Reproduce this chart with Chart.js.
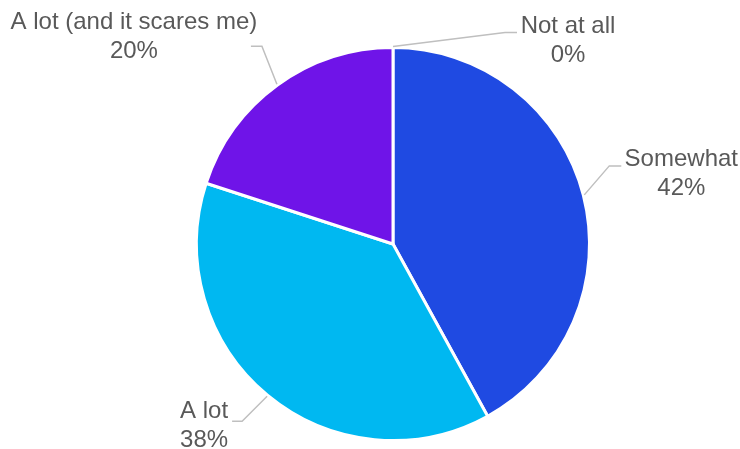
<!DOCTYPE html>
<html>
<head>
<meta charset="utf-8">
<script src="https://cdn.jsdelivr.net/npm/chart.js@4"></script>
<style>
  html, body { margin: 0; padding: 0; background: #fff; }
  #wrap { width: 740px; height: 449px; }
</style>
</head>
<body>
<div id="wrap"><canvas id="pieChart" width="740" height="449"></canvas></div>
<script>
const categories = ['Somewhat', 'A lot', 'A lot (and it scares me)', 'Not at all'];
const shares = [42, 38, 20, 0];
const sliceColors = ['#1f4ae2', '#00b8f1', '#6f14e8', '#a5a5a5'];

// leader line: elbow offset from slice edge, then horizontal run; text centre / first baseline from line end
const leaders = [
  { elbow: [25, -29], run: 12, text: [60, 0] },
  { elbow: [-25, 25], run: -10, text: [-28, -3] },
  { elbow: [-15, -38], run: -11, text: [-117, -17] },
  { elbow: [112, -14], run: 12, text: [51, 0] },
];

const pieLabels = {
  id: 'pieLabels',
  afterDraw(chart) {
    const ctx = chart.ctx;
    const arcs = chart.getDatasetMeta(0).data;
    ctx.save();
    arcs.forEach((arc, i) => {
      const { x, y, startAngle, endAngle, outerRadius } = arc.getProps(['x', 'y', 'startAngle', 'endAngle', 'outerRadius'], true);
      const mid = (startAngle + endAngle) / 2;
      const ax = x + Math.cos(mid) * (outerRadius + 1);
      const ay = y + Math.sin(mid) * (outerRadius + 1);
      const cfg = leaders[i];
      const ex = ax + cfg.elbow[0];
      const ey = ay + cfg.elbow[1];
      const rx = ex + cfg.run;

      ctx.strokeStyle = '#bfbfbf';
      ctx.lineWidth = 1.5;
      ctx.beginPath();
      ctx.moveTo(ax, ay);
      ctx.lineTo(ex, ey);
      ctx.lineTo(rx, ey);
      ctx.stroke();

      ctx.fillStyle = '#595959';
      ctx.font = '24px "Liberation Sans", Arial, sans-serif';
      ctx.textAlign = 'center';
      ctx.textBaseline = 'alphabetic';
      const tx = rx + cfg.text[0];
      const ty = ey + cfg.text[1];
      ctx.fillText(categories[i], tx, ty);
      ctx.fillText(shares[i] + '%', tx, ty + 29);
    });
    ctx.restore();
  },
};

new Chart(document.getElementById('pieChart'), {
  type: 'pie',
  data: {
    labels: categories,
    datasets: [{
      data: shares,
      backgroundColor: sliceColors,
      borderColor: '#ffffff',
      borderWidth: 3,
      clip: false,
    }],
  },
  options: {
    responsive: false,
    animation: false,
    radius: 196.5,
    layout: { padding: { left: 190, right: 144, top: 42, bottom: 3 } },
    plugins: {
      legend: { display: false },
      tooltip: { enabled: false },
    },
  },
  plugins: [pieLabels],
});
</script>
</body>
</html>
